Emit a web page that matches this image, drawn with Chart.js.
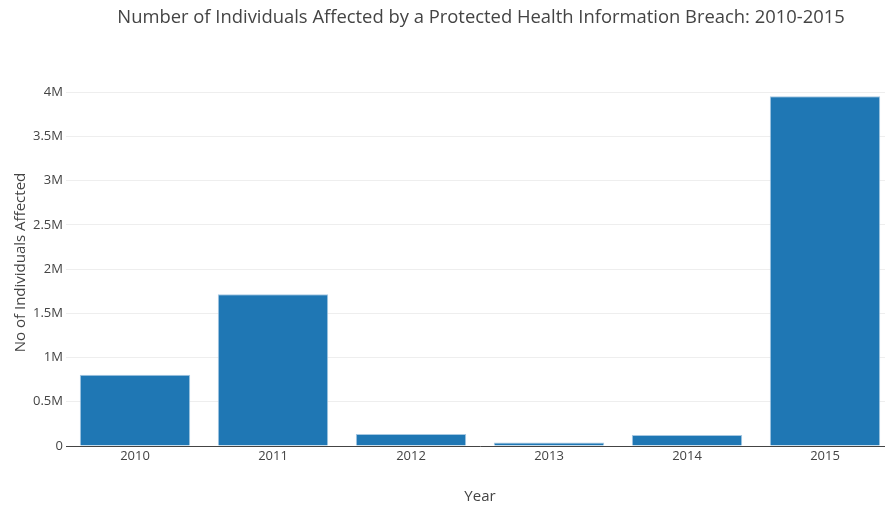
<!DOCTYPE html>
<html>
<head>
<meta charset="utf-8">
<script src="https://cdn.jsdelivr.net/npm/chart.js@4"></script>
<style>
  html, body { margin: 0; padding: 0; background: #fff; overflow: hidden; }
  /* plot runs a little past the right edge of the window, as in the original */
  #wrap { width: 900px; height: 506px; }
</style>
</head>
<body>
<div id="wrap"><canvas id="graf"></canvas></div>
<script>
let years = ["2010", "2011", "2012", "2013", "2014", "2015"];
let affected = [806000, 1717000, 136000, 40000, 124000, 3955000];
let tickValues = [0, 500000, 1000000, 1500000, 2000000, 2500000, 3000000, 3500000, 4000000];
let tickLabels = ["0", "0.5M", "1M", "1.5M", "2M", "2.5M", "3M", "3.5M", "4M"];

const fontFam = "'Open Sans', sans-serif";
const textColor = "#444";
const chartTitle = "Number of Individuals Affected by a Protected Health Information Breach: 2010-2015";

// title is drawn by hand so it sits where the original put it
const titlePlugin = {
    id: "topTitle",
    afterDraw(chart) {
        let ctx = chart.ctx;
        ctx.save();
        ctx.font = "18.4px " + fontFam;
        ctx.fillStyle = textColor;
        ctx.textAlign = "center";
        ctx.textBaseline = "middle";
        ctx.fillText(chartTitle, 481, 18);
        ctx.restore();
    }
};

let charBar = document.getElementById("graf");

const config1 = {
    type: "bar",
    data: {
        labels: years,
        datasets: [{
            label: "Individuals Affected",
            data: affected,
            backgroundColor: "#1f77b4",
            borderColor: "#a6c8e2",
            borderWidth: 1,
            categoryPercentage: 0.8,
            barPercentage: 1.0
        }]
    },
    options: {
        responsive: true,
        maintainAspectRatio: false,
        animation: false,
        layout: {
            padding: { left: 0, right: 6, top: 79, bottom: 0 }
        },
        plugins: {
            legend: { display: false },
            tooltip: { enabled: false }
        },
        scales: {
            x: {
                grid: { display: false, drawTicks: false },
                border: { color: textColor, width: 1 },
                ticks: { color: textColor, font: { family: fontFam, size: 13 }, padding: 2 },
                title: {
                    display: true,
                    text: "Year",
                    color: textColor,
                    font: { family: fontFam, size: 15 },
                    padding: { top: 0, bottom: 0 }
                },
                afterFit(scale) { scale.height = 60; }
            },
            y: {
                min: 0,
                max: 4150000,
                grid: { color: "#eeeeee", lineWidth: 1, drawTicks: false },
                border: { display: false },
                afterBuildTicks(scale) {
                    scale.ticks = tickValues.map(v => ({ value: v }));
                },
                ticks: {
                    color: textColor,
                    font: { family: fontFam, size: 13 },
                    padding: 3,
                    callback: function (value) {
                        let i = tickValues.indexOf(value);
                        return i >= 0 ? tickLabels[i] : null;
                    }
                },
                title: {
                    display: true,
                    text: "No of Individuals Affected",
                    color: textColor,
                    font: { family: fontFam, size: 15 },
                    padding: { top: 12, bottom: 0 }
                },
                afterFit(scale) { scale.width = 66; }
            }
        }
    },
    plugins: [titlePlugin]
};

let mero = new Chart(charBar, config1);
</script>
</body>
</html>
